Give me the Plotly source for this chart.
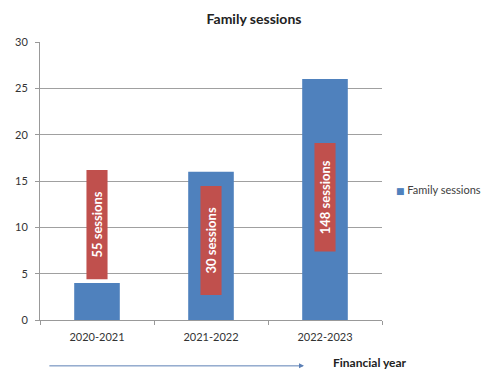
import plotly.graph_objects as go

categories = ["2020-2021", "2021-2022", "2022-2023"]
family_sessions = [4, 16, 26]
label_texts = ["55 sessions", "30 sessions", "148 sessions"]
label_low = [4.4, 2.7, 7.4]
label_high = [16.2, 14.45, 19.1]
y_ticks = [0, 5, 10, 15, 20, 25, 30]

BLUE = "#4F81BD"
RED = "#C0504D"
FONT = "Lato"

fig = go.Figure()
fig.add_trace(go.Bar(
    x=categories, y=family_sessions, name="Family sessions",
    marker=dict(color=BLUE, line=dict(width=0)), width=0.4, showlegend=False,
))
# legend entry: swatch drawn inline with the text
fig.add_trace(go.Scatter(
    x=[None], y=[None], mode="markers",
    name=f"<span style='color:{BLUE};font-family:DejaVu Sans;font-size:9px'>■</span> Family sessions",
    marker=dict(symbol="square", size=1, color="rgba(0,0,0,0)"), showlegend=True,
))
fig.add_trace(go.Bar(
    x=categories,
    y=[h - l for h, l in zip(label_high, label_low)],
    base=label_low,
    marker=dict(color=RED, line=dict(width=0)), width=0.185,
    showlegend=False, hoverinfo="skip",
))
for cat, lo, hi, txt in zip(categories, label_low, label_high, label_texts):
    fig.add_annotation(
        x=cat, y=(lo + hi) / 2, text=f"<b>{txt}</b>", textangle=-90,
        showarrow=False, font=dict(color="white", size=13, family=FONT),
        xanchor="center", yanchor="middle",
    )

fig.update_layout(
    barmode="overlay",
    width=484, height=372,
    margin=dict(l=40, r=102, t=42, b=52, autoexpand=False),
    paper_bgcolor="white", plot_bgcolor="white",
    font=dict(family=FONT, size=11, color="#404040"),
    title=dict(text="<b>Family sessions</b>", x=(254 / 484), xanchor="center",
               y=1 - 19 / 372, yanchor="middle",
               font=dict(size=14, color="#222222", family=FONT)),
    showlegend=True,
    legend=dict(x=0.924, xanchor="left", y=0.468, yanchor="middle",
                font=dict(size=11, color="#404040"), bgcolor="rgba(0,0,0,0)",
                itemwidth=30),
)
fig.update_xaxes(
    showline=True, linecolor="#999999", linewidth=1,
    ticks="outside", tickson="boundaries", ticklen=4, tickcolor="#999999",
    showgrid=False, tickfont=dict(size=11, color="#333333"), ticklabelstandoff=7,
)
fig.update_yaxes(
    range=[0, 30], tickvals=y_ticks, showline=True, linecolor="#999999", linewidth=1,
    ticks="outside", ticklen=4, tickcolor="#999999",
    showgrid=True, gridcolor="#A0A0A0", gridwidth=1, zeroline=False,
    tickfont=dict(size=11, color="#333333"), ticklabelstandoff=5,
)

fig.add_annotation(
    xref="x domain", yref="y domain", axref="x domain", ayref="y domain",
    x=0.772, y=-0.165, ax=0.023, ay=-0.165,
    text="", showarrow=True, arrowhead=2, arrowsize=1, arrowwidth=1,
    arrowcolor="#5B7FB5",
)
fig.add_annotation(
    xref="paper", yref="paper", x=0.965, y=-0.187,
    text="<b>Financial year</b>", showarrow=False,
    font=dict(size=12, color="#222222", family=FONT),
    xanchor="center", yanchor="bottom",
)

fig.write_html("out.html", config={"displayModeBar": False},
               post_script="document.body.style.margin='0';")
